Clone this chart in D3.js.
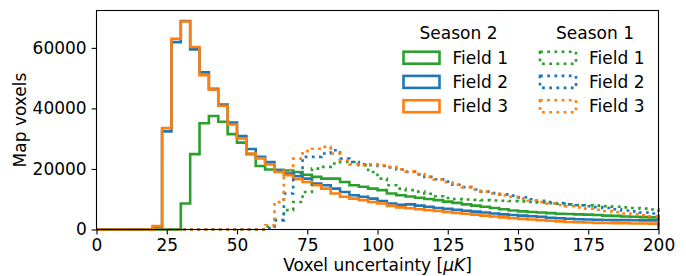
<!DOCTYPE html>
<html>
<head lang="en">
  <title>Voxel uncertainty histogram</title>
  <script src="https://d3js.org/d3.v7.min.js" charset="utf-8"></script>
  <style>
    body { margin: 0; background: #fff; }
    text { font-family: "DejaVu Sans", sans-serif; fill: #000; }
  </style>
</head>
<body>
  <script>
    // histogram bins: 60 bins between 0 and 200 uK
    var xMin = 0, xMax = 200, nBins = 60;

    var s2Field1 = [0, 0, 0, 0, 0, 0, 0, 0, 0, 8600,
      24900, 35100, 37500, 35600, 31500, 28700, 24900, 21000, 19800, 19600,
      19500, 19000, 18100, 17400, 16800, 16800, 15700, 14600, 14100, 13500,
      13000, 11900, 11300, 10900, 10500, 10100, 9700, 9200, 8800, 8300,
      7900, 7500, 7100, 6700, 6300, 6000, 5800, 5600, 5400, 5200,
      5100, 5000, 4900, 4800, 4600, 4500, 4300, 4200, 4100, 4000];
    var s2Field2 = [0, 0, 0, 0, 0, 0, 900, 32400, 61900, 68900,
      59500, 51900, 46500, 41300, 35300, 30900, 26600, 24000, 22300, 19600,
      18500, 17600, 16800, 15200, 14600, 13500, 12400, 11300, 10800, 10200,
      9400, 8600, 8200, 8300, 7900, 7500, 7100, 6800, 6500, 6200,
      5900, 5600, 5300, 5000, 4800, 4600, 4400, 4200, 3900, 3700,
      3550, 3400, 3300, 3200, 3150, 3100, 3100, 3050, 3000, 3000];
    var s2Field3 = [0, 0, 0, 0, 0, 0, 1100, 33500, 63000, 68700,
      60300, 51000, 46200, 40900, 34700, 30100, 25100, 23500, 21500, 19000,
      17900, 16600, 15700, 14600, 13500, 11900, 10800, 10200, 9700, 9100,
      8600, 7800, 7300, 7000, 6700, 6400, 6100, 5800, 5500, 5200,
      4900, 4600, 4300, 4000, 3700, 3500, 3300, 3100, 2900, 2700,
      2500, 2400, 2300, 2200, 2150, 2100, 2050, 2000, 2000, 1950];
    var s1Field1 = [0, 0, 0, 0, 0, 0, 0, 0, 0, 0,
      0, 0, 0, 0, 0, 0, 0, 0, 900, 3100,
      6400, 9100, 12400, 20100, 20700, 21800, 22300, 22300, 21200, 19000,
      16800, 14600, 13500, 13000, 12500, 11800, 11000, 10400, 10100, 9900,
      9800, 9700, 9600, 9500, 9400, 9300, 9100, 8900, 8700, 8500,
      8300, 8100, 8000, 7900, 7700, 7500, 7300, 7100, 6900, 6600];
    var s1Field2 = [0, 0, 0, 0, 0, 0, 0, 0, 0, 0,
      0, 0, 0, 0, 0, 0, 0, 0, 400, 3100,
      11900, 18500, 24000, 24000, 25100, 26200, 23400, 22300, 21500, 21200,
      21000, 20500, 19800, 19000, 18200, 17400, 16600, 15800, 14800, 14000,
      13200, 12500, 12000, 11600, 11200, 10600, 10000, 9500, 9100, 8700,
      8300, 8000, 7700, 7400, 7100, 6700, 6300, 6000, 5600, 5300];
    var s1Field3 = [0, 0, 0, 0, 0, 0, 0, 0, 0, 0,
      0, 0, 0, 0, 0, 0, 0, 0, 1400, 9100,
      19600, 23400, 25900, 26700, 27300, 25100, 22900, 21500, 21200, 21500,
      21200, 20700, 19900, 19200, 18300, 17400, 16500, 15600, 14800, 14000,
      13200, 12500, 11900, 11300, 10800, 10200, 9600, 9100, 8600, 8100,
      7700, 7300, 6900, 6500, 6100, 5700, 5300, 5000, 4700, 4400];

    var fieldNames = ["Field 1", "Field 2", "Field 3"];
    var seasonNames = ["Season 2", "Season 1"];
    var fieldColors = ["#2ca02c", "#1f77b4", "#ff7f0e"];
    var xTicks = [0, 25, 50, 75, 100, 125, 150, 175, 200];
    var yTicks = [0, 20000, 40000, 60000];

    var series = [
      { season: 0, field: 0, values: s2Field1 },
      { season: 0, field: 1, values: s2Field2 },
      { season: 0, field: 2, values: s2Field3 },
      { season: 1, field: 0, values: s1Field1 },
      { season: 1, field: 1, values: s1Field2 },
      { season: 1, field: 2, values: s1Field3 }
    ];

    var width = 686;
    var height = 276;
    var margin = { top: 10.5, right: 27.5, bottom: 46.5, left: 96.5 };
    var lw = 2.6;
    var dots = "2.8,4.4";
    var fontSize = 17;

    var binEdges = d3.range(nBins + 1).map(function(i) {
      return xMin + i * (xMax - xMin) / nBins;
    });
    var yMax = d3.max(series, function(s) { return d3.max(s.values); }) * 1.05;

    var x = d3.scaleLinear()
      .domain([xMin, xMax])
      .range([margin.left, width - margin.right]);

    var y = d3.scaleLinear()
      .domain([0, yMax])
      .range([height - margin.bottom, margin.top]);

    var svg = d3.select("body")
      .append("svg")
      .attr("width", width)
      .attr("height", height);

    svg.append("defs").append("clipPath")
        .attr("id", "plotclip")
      .append("rect")
        .attr("x", margin.left - 2)
        .attr("y", margin.top)
        .attr("width", width - margin.left - margin.right + 4)
        .attr("height", height - margin.top - margin.bottom + 2);

    // step outline like matplotlib histtype='step'
    function stepPoints(values) {
      var pts = [[binEdges[0], 0]];
      values.forEach(function(v, i) {
        pts.push([binEdges[i], v]);
        pts.push([binEdges[i + 1], v]);
      });
      pts.push([binEdges[nBins], 0]);
      return pts;
    }

    var line = d3.line()
      .x(function(d) { return x(d[0]); })
      .y(function(d) { return y(d[1]); });

    svg.append("g")
        .attr("clip-path", "url(#plotclip)")
      .selectAll("path")
        .data(series)
      .enter().append("path")
        .attr("d", function(d) { return line(stepPoints(d.values)); })
        .style("fill", "none")
        .style("stroke", function(d) { return fieldColors[d.field]; })
        .style("stroke-width", lw)
        .style("stroke-linejoin", "miter")
        .style("stroke-dasharray", function(d) { return d.season == 1 ? dots : null; });

    // axes
    var xAxis = svg.append("g")
      .attr("transform", "translate(0," + (height - margin.bottom) + ")")
      .call(d3.axisBottom(x).tickValues(xTicks).tickSize(4.9).tickPadding(4.2).tickFormat(d3.format("d")));

    var yAxis = svg.append("g")
      .attr("transform", "translate(" + margin.left + ",0)")
      .call(d3.axisLeft(y).tickValues(yTicks).tickSize(4.9).tickPadding(4.9).tickFormat(d3.format("d")));

    [xAxis, yAxis].forEach(function(g) {
      g.select(".domain").remove();
      g.selectAll(".tick line").style("stroke", "#000").style("stroke-width", 1.1);
      g.selectAll(".tick text")
        .style("font-family", "DejaVu Sans")
        .style("font-size", fontSize + "px")
        .style("fill", "#000");
    });

    // frame
    svg.append("rect")
      .attr("x", margin.left)
      .attr("y", margin.top)
      .attr("width", width - margin.left - margin.right)
      .attr("height", height - margin.top - margin.bottom)
      .style("fill", "none")
      .style("stroke", "#000")
      .style("stroke-width", 1.1);

    var xLabel = svg.append("text")
      .attr("x", (margin.left + width - margin.right) / 2)
      .attr("y", 270.5)
      .attr("text-anchor", "middle")
      .style("font-size", fontSize + "px");
    xLabel.append("tspan").text("Voxel uncertainty [");
    xLabel.append("tspan").style("font-style", "italic").text("\u03bcK");
    xLabel.append("tspan").text("]");

    svg.append("text")
      .attr("transform", "translate(26," + ((margin.top + height - margin.bottom) / 2) + ") rotate(-90)")
      .attr("text-anchor", "middle")
      .style("font-size", fontSize + "px")
      .text("Map voxels");

    // legend: one column per season
    var legX = [403.5, 540];
    var rowY = [57.7, 81.9, 106.2];

    var legCols = svg.append("g")
      .selectAll("g")
        .data(seasonNames)
      .enter().append("g");

    legCols.append("text")
      .attr("x", function(d, i) { return legX[i] + 55; })
      .attr("y", 39)
      .attr("text-anchor", "middle")
      .style("font-size", fontSize + "px")
      .text(function(d) { return d; });

    legCols.each(function(season, si) {
      var g = d3.select(this);
      var rows = g.selectAll(".row")
        .data(fieldNames)
        .enter().append("g")
          .attr("class", "row");
      rows.append("rect")
        .attr("x", legX[si])
        .attr("y", function(d, i) { return rowY[i] - 6; })
        .attr("width", 36)
        .attr("height", 12)
        .style("fill", "none")
        .style("stroke", function(d, i) { return fieldColors[i]; })
        .style("stroke-width", lw)
        .style("stroke-dasharray", si == 1 ? dots : null);
      rows.append("text")
        .attr("x", legX[si] + 49)
        .attr("y", function(d, i) { return rowY[i] + 6; })
        .style("font-size", fontSize + "px")
        .text(function(d) { return d; });
    });
  </script>
</body>
</html>
